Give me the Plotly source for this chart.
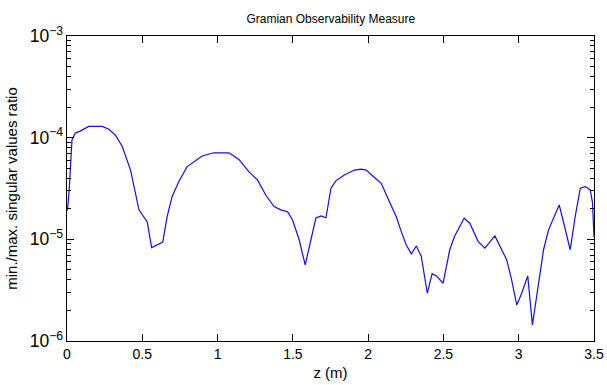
import plotly.graph_objects as go

z = [0.0, 0.005, 0.015, 0.022, 0.033, 0.055, 0.087, 0.145, 0.233, 0.278, 0.322,
     0.367, 0.422, 0.478, 0.5, 0.533, 0.562, 0.636, 0.665, 0.698, 0.742, 0.798,
     0.898, 0.975, 1.075, 1.142, 1.209, 1.265, 1.32, 1.375, 1.42, 1.465, 1.498,
     1.542, 1.582, 1.62, 1.653, 1.687, 1.72, 1.753, 1.787, 1.842, 1.909, 1.953,
     1.987, 2.031, 2.087, 2.131, 2.187, 2.22, 2.253, 2.287, 2.32, 2.353, 2.393,
     2.425, 2.453, 2.498, 2.542, 2.575, 2.62, 2.638, 2.675, 2.731, 2.775, 2.842,
     2.887, 2.92, 2.953, 2.987, 3.02, 3.06, 3.091, 3.12, 3.153, 3.165, 3.198,
     3.269, 3.305, 3.342, 3.375, 3.409, 3.442, 3.475, 3.49, 3.5]
ratio = [1.9e-5, 2.1e-5, 3.1e-5, 5.0e-5, 9.5e-5, 1.11e-4, 1.16e-4, 1.29e-4, 1.29e-4,
         1.21e-4, 1.06e-4, 8.2e-5, 4.8e-5, 1.95e-5, 1.74e-5, 1.48e-5, 8.3e-6, 9.4e-6,
         1.67e-5, 2.63e-5, 3.69e-5, 5.19e-5, 6.6e-5, 7.1e-5, 7.1e-5, 6.1e-5, 4.6e-5,
         3.84e-5, 2.73e-5, 2.1e-5, 1.95e-5, 1.87e-5, 1.55e-5, 9.9e-6, 5.6e-6, 9.9e-6,
         1.62e-5, 1.7e-5, 1.63e-5, 3.18e-5, 3.78e-5, 4.3e-5, 4.8e-5, 4.9e-5, 4.8e-5,
         4.2e-5, 3.56e-5, 2.54e-5, 1.67e-5, 1.19e-5, 8.8e-6, 7.2e-6, 8.6e-6, 6.8e-6,
         2.95e-6, 4.6e-6, 4.37e-6, 3.7e-6, 7.9e-6, 1.08e-5, 1.45e-5, 1.61e-5, 1.44e-5,
         9.5e-6, 8.2e-6, 1.08e-5, 7.9e-6, 6.3e-6, 4.0e-6, 2.26e-6, 2.95e-6, 4.37e-6,
         1.44e-6, 2.73e-6, 5.6e-6, 7.9e-6, 1.24e-5, 2.18e-5, 1.33e-5, 7.9e-6, 1.67e-5,
         3.18e-5, 3.3e-5, 3.06e-5, 2.3e-5, 1.05e-5]

x_ticks = [0, 0.5, 1, 1.5, 2, 2.5, 3, 3.5]
x_tick_labels = ["0", "0.5", "1", "1.5", "2", "2.5", "3", "3.5"]
y_minor_ticks = [m * 10.0 ** e for e in (-6, -5, -4) for m in range(2, 10)]

fig = go.Figure()
fig.add_trace(go.Scatter(x=z, y=ratio, mode="lines",
                         line=dict(color="#1010e0", width=1.2), showlegend=False))
# invisible helper trace so the minor-tick axis is drawn
fig.add_trace(go.Scatter(x=z[:1], y=ratio[:1], yaxis="y2", mode="markers",
                         marker=dict(opacity=0), hoverinfo="skip", showlegend=False))

font = dict(family="Liberation Sans, Arial, sans-serif", size=14, color="black")

fig.update_layout(
    template="none",
    width=607, height=385,
    margin=dict(l=67, r=13, t=36, b=44, autoexpand=False),
    paper_bgcolor="white", plot_bgcolor="white",
    font=font,
    title=dict(text="Gramian Observability Measure", x=0.545, xanchor="center",
               y=0.952, yanchor="middle", font=dict(size=12, color="black")),
    xaxis=dict(range=[0, 3.5], tickvals=x_ticks, ticktext=x_tick_labels,
               ticks="inside", ticklen=7, tickwidth=1, tickcolor="black",
               tickfont=dict(size=14), automargin=False,
               showline=True, linecolor="black", linewidth=1, mirror="ticks",
               showgrid=False, zeroline=False,
               title=dict(text="z (m)", standoff=6, font=dict(size=15))),
    yaxis=dict(type="log", range=[-6, -3], dtick=1, exponentformat="power",
               ticks="inside", ticklen=7, tickwidth=1, tickcolor="black",
               tickfont=dict(size=14), automargin=False,
               showline=True, linecolor="black", linewidth=1, mirror="ticks",
               showgrid=False, zeroline=False,
               title=dict(text="min./max. singular values ratio", standoff=8, font=dict(size=15))),
    yaxis2=dict(type="log", range=[-6, -3], overlaying="y", side="left",
                tickvals=y_minor_ticks, showticklabels=False, automargin=False,
                ticks="inside", ticklen=4, tickwidth=1, tickcolor="black",
                showline=True, linecolor="black", linewidth=1, mirror="ticks",
                showgrid=False, zeroline=False),
)

fig.write_html("out.html")
